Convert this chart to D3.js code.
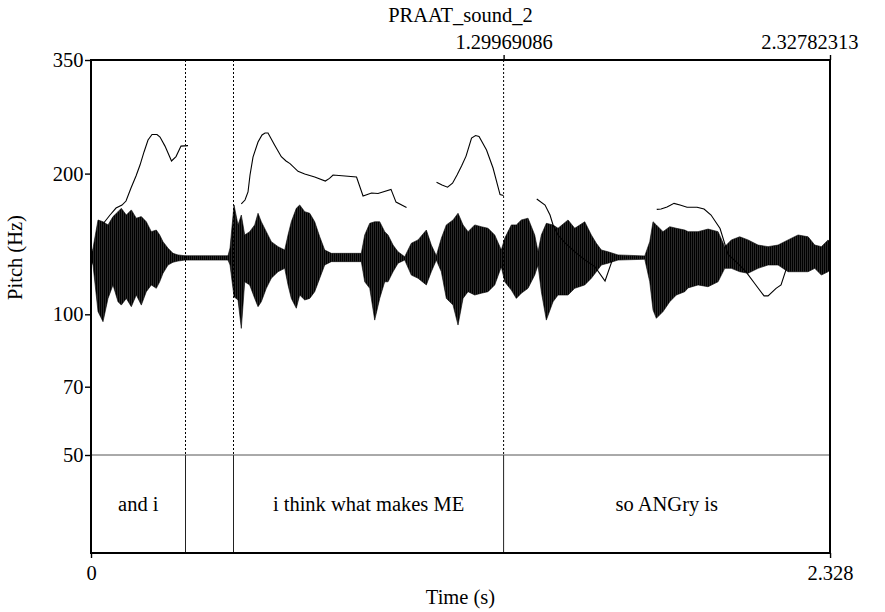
<!DOCTYPE html>
<html>
<head>
<meta charset="utf-8">
<script src="https://cdn.jsdelivr.net/npm/d3@7"></script>
<style>
  body{margin:0;background:#fff;}
  svg{display:block;}
  svg text{font-family:"Liberation Serif","Tinos","DejaVu Serif",serif;font-size:20.5px;fill:#000;}
  .axis line{stroke:#000;stroke-width:1.4;}
</style>
</head>
<body>
<div id="chart"></div>
<script>
// sound envelope (amplitude, full scale = 1)
const waveT = [0,0.0063,0.0221,0.0378,0.0536,0.0693,0.0851,0.0955,0.1112,0.1270,0.1427,0.1585,0.1742,0.1900,0.2057,0.2164,0.2268,0.2426,0.2583,0.2741,0.2961,
  0.4316,0.4379,0.4505,0.4631,0.4735,0.4842,0.4999,0.5157,0.5261,0.5365,0.5522,0.5680,0.5891,0.6102,0.6206,0.6310,0.6467,0.6574,0.6732,0.6890,0.7047,0.7205,0.7362,0.7570,
  0.8515,0.8622,0.8780,0.8937,0.9095,0.9252,0.9356,0.9514,0.9671,0.9882,1.0090,1.0301,1.0563,1.0720,1.0878,1.1035,1.1193,1.1404,1.1561,1.1719,1.1876,1.2087,1.2295,1.2506,1.2717,1.2925,
  1.3032,1.3240,1.3398,1.3555,1.3766,1.3977,1.4081,1.4185,1.4343,1.4554,1.4711,1.5026,1.5238,1.5553,1.5761,1.5918,1.6076,1.6287,1.6602,1.7443,1.7600,1.7704,1.7808,1.8019,1.8230,
  1.8438,1.8703,1.8807,1.9122,1.9437,1.9752,1.9963,2.0171,2.0435,2.0697,2.1012,2.1327,2.1642,2.1957,2.2272,2.2587,2.2798,2.3006,2.3217,2.3280];
const waveTop = [0.013,0.047,0.190,0.181,0.165,0.207,0.232,0.249,0.215,0.241,0.199,0.207,0.181,0.131,0.139,0.114,0.080,0.047,0.021,0.013,0.009,
  0.009,0.048,0.266,0.165,0.215,0.114,0.131,0.165,0.224,0.181,0.131,0.080,0.055,0.038,0.114,0.181,0.249,0.266,0.232,0.224,0.181,0.105,0.038,0.021,
  0.021,0.114,0.173,0.181,0.181,0.131,0.114,0.063,0.029,0.004,0.072,0.089,0.139,0.063,0.009,0.097,0.165,0.190,0.224,0.165,0.131,0.165,0.156,0.148,0.114,0.038,
  0.097,0.165,0.165,0.190,0.199,0.114,0.029,0.114,0.173,0.165,0.148,0.190,0.148,0.181,0.114,0.072,0.038,0.029,0.013,0.008,0.080,0.181,0.165,0.131,0.156,
  0.148,0.139,0.131,0.131,0.144,0.131,0.055,0.089,0.105,0.089,0.063,0.055,0.063,0.089,0.114,0.105,0.063,0.055,0.089,0.078];
const waveBot = [-0.013,-0.038,-0.274,-0.325,-0.207,-0.139,-0.224,-0.241,-0.207,-0.249,-0.190,-0.241,-0.173,-0.139,-0.156,-0.123,-0.080,-0.038,-0.024,-0.018,-0.013,
  -0.013,-0.038,-0.199,-0.215,-0.359,-0.123,-0.139,-0.207,-0.249,-0.224,-0.156,-0.105,-0.072,-0.055,-0.139,-0.207,-0.257,-0.190,-0.215,-0.207,-0.173,-0.105,-0.038,-0.021,
  -0.021,-0.123,-0.156,-0.317,-0.207,-0.123,-0.123,-0.072,-0.029,-0.013,-0.089,-0.105,-0.139,-0.072,-0.013,-0.072,-0.207,-0.241,-0.342,-0.207,-0.173,-0.190,-0.181,-0.173,-0.139,-0.047,
  -0.123,-0.165,-0.207,-0.181,-0.156,-0.089,-0.038,-0.173,-0.317,-0.224,-0.190,-0.190,-0.156,-0.139,-0.105,-0.072,-0.038,-0.029,-0.013,-0.009,-0.123,-0.266,-0.308,-0.274,-0.224,
  -0.190,-0.173,-0.154,-0.139,-0.148,-0.123,-0.055,-0.055,-0.072,-0.080,-0.055,-0.038,-0.038,-0.072,-0.072,-0.072,-0.055,-0.089,-0.072,-0.063];

// pitch contour (s, Hz); null breaks the line between voiced stretches
const pitchT = [0.0388,0.0599,0.0788,0.0977,0.1103,0.126,0.1418,0.1544,0.167,0.1796,0.1922,0.2079,0.2174,0.2331,0.2536,0.2678,0.2835,0.3056,null,
  0.4735,0.4851,0.4946,0.5009,0.5103,0.5261,0.5387,0.5482,0.5576,0.5787,0.5995,0.6143,0.6269,0.6521,0.6732,0.7047,0.7381,0.7513,0.7624,0.8001,0.8364,0.8569,0.8836,0.9041,0.945,0.9608,0.9939,null,
  1.0884,1.1057,1.1231,1.1388,1.153,1.1672,1.1814,1.1987,1.2113,1.2223,1.2459,1.2664,1.2885,1.2995,null,
  1.4041,1.4302,1.4459,1.4554,1.4711,1.4932,1.5247,1.5562,1.5877,1.6192,1.6412,null,
  1.7821,1.7956,1.8145,1.8366,1.8555,1.8775,1.909,1.9311,1.9531,1.9815,2.0067,2.0351,2.0634,2.0918,2.1201,2.1327,2.1579,2.1736,2.1909];
const pitchHz = [156.4,163.1,168.8,171.3,174.7,186.3,197.6,208.6,222.5,236,242.5,242.5,239.5,229,212.8,217.5,229,229.5,null,
  172.2,175.6,182.7,198.6,217,233.6,241.9,244.3,244.3,230,217.3,212.8,210.1,202.2,199.6,196.7,192.8,195.3,198.6,197.6,196.7,179.1,181.8,181.3,185,173.8,169.2,null,
  191.6,189.1,187,190.7,198.6,207.6,218,238.3,241.3,240.1,224.7,205.6,180.4,179.5,null,
  176.5,171.3,163.1,155.3,147.8,142.1,135.9,130.7,126.3,117.8,130.1,null,
  167.7,168,169.6,172.7,171.3,169.4,169.4,168,163.1,152.6,134.3,128.9,123.2,116.1,109.5,109.5,113.6,115.6,125.5];

// TextGrid tier
const bounds = [0,0.2977,0.4489,1.29969086,2.32782313];
const words = ["and i","","i think what makes ME","so ANGry is"];

const pitchTicks = [50,70,100,200,350];
const timeTicks = [0,2.328];
const topTicks = [1.29969086,2.32782313];

const W = 885, H = 612;
const pL = 91, pR = 830, pT = 60, tierY = 455, pB = 553;

const svg = d3.select("#chart").append("svg")
  .attr("width",W).attr("height",H);

const x = d3.scaleLinear().domain([0,2.32782313]).range([pL,pR]);
const yP = d3.scaleLog().domain([50,350]).range([tierY,pT]);
const yA = d3.scaleLinear().domain([-1,1]).range([tierY,pT]);

// striped fill so the sound reads as a dense comb of periods
const pat = svg.append("defs").append("pattern")
  .attr("id","comb").attr("patternUnits","userSpaceOnUse")
  .attr("width",2).attr("height",4);
pat.append("rect").attr("width",2).attr("height",4).attr("fill","#3a3a3a");
pat.append("rect").attr("width",1.3).attr("height",4).attr("fill","#000");

// waveform
const wave = waveT.map((t,i)=>({t, hi:waveTop[i], lo:waveBot[i]}));
svg.append("path")
  .datum(wave)
  .attr("d", d3.area().x(d=>x(d.t)).y0(d=>yA(d.lo)).y1(d=>yA(d.hi)))
  .attr("fill","url(#comb)")
  .attr("stroke","#000")
  .attr("stroke-width",0.6);

// boundaries: dotted above the tier, solid inside it
bounds.slice(1,-1).forEach(b=>{
  svg.append("line")
    .attr("x1",x(b)).attr("x2",x(b)).attr("y1",pT).attr("y2",tierY)
    .attr("stroke","#000").attr("stroke-width",1).attr("stroke-dasharray","2,2");
  svg.append("line")
    .attr("x1",x(b)).attr("x2",x(b)).attr("y1",tierY).attr("y2",pB)
    .attr("stroke","#222").attr("stroke-width",1);
});

// pitch
const pts = pitchT.map((t,i)=>({t, f:pitchHz[i]}));
svg.append("path")
  .datum(pts)
  .attr("d", d3.line().defined(d=>d.t!=null).x(d=>x(d.t)).y(d=>yP(d.f)))
  .attr("fill","none")
  .attr("stroke","#000")
  .attr("stroke-width",1.1);

// tier line and labels
svg.append("line")
  .attr("x1",pL).attr("x2",pR).attr("y1",tierY).attr("y2",tierY)
  .attr("stroke","#555").attr("stroke-width",1);

svg.selectAll(".word")
  .data(words)
  .enter().append("text")
  .attr("class","word")
  .attr("x",(d,i)=>(x(bounds[i])+x(bounds[i+1]))/2)
  .attr("y",511)
  .attr("text-anchor","middle")
  .text(d=>d);

// axes
const gl = svg.append("g").attr("class","axis")
  .attr("transform","translate("+pL+",0)")
  .call(d3.axisLeft(yP).tickValues(pitchTicks).tickFormat(d3.format("d")).tickSize(6).tickPadding(1.5));
gl.select(".domain").remove();

const gb = svg.append("g").attr("class","axis")
  .attr("transform","translate(0,"+pB+")")
  .call(d3.axisBottom(x).tickValues(timeTicks).tickFormat(d=>d===0?"0":"2.328").tickSize(5).tickPadding(7));
gb.select(".domain").remove();

const gt = svg.append("g").attr("class","axis")
  .attr("transform","translate(0,"+pT+")")
  .call(d3.axisTop(x).tickValues(topTicks).tickFormat(d3.format(".8f")).tickSize(5).tickPadding(6));
gt.select(".domain").remove();
gt.selectAll(".tick").filter((d,i)=>i===1).select("text")
  .attr("text-anchor","end").attr("x",28);

svg.selectAll(".axis").attr("font-family",null).attr("font-size",null);

// frame
svg.append("rect")
  .attr("x",pL).attr("y",pT).attr("width",pR-pL).attr("height",pB-pT)
  .attr("fill","none").attr("stroke","#000").attr("stroke-width",2);

// titles
svg.append("text")
  .attr("x",(pL+pR)/2).attr("y",22)
  .attr("text-anchor","middle")
  .text("PRAAT_sound_2");

svg.append("text")
  .attr("x",(pL+pR)/2).attr("y",604)
  .attr("text-anchor","middle")
  .text("Time (s)");

svg.append("text")
  .attr("transform","translate(21.5,"+((pT+tierY)/2)+") rotate(-90)")
  .attr("text-anchor","middle")
  .text("Pitch (Hz)");
</script>
</body>
</html>
